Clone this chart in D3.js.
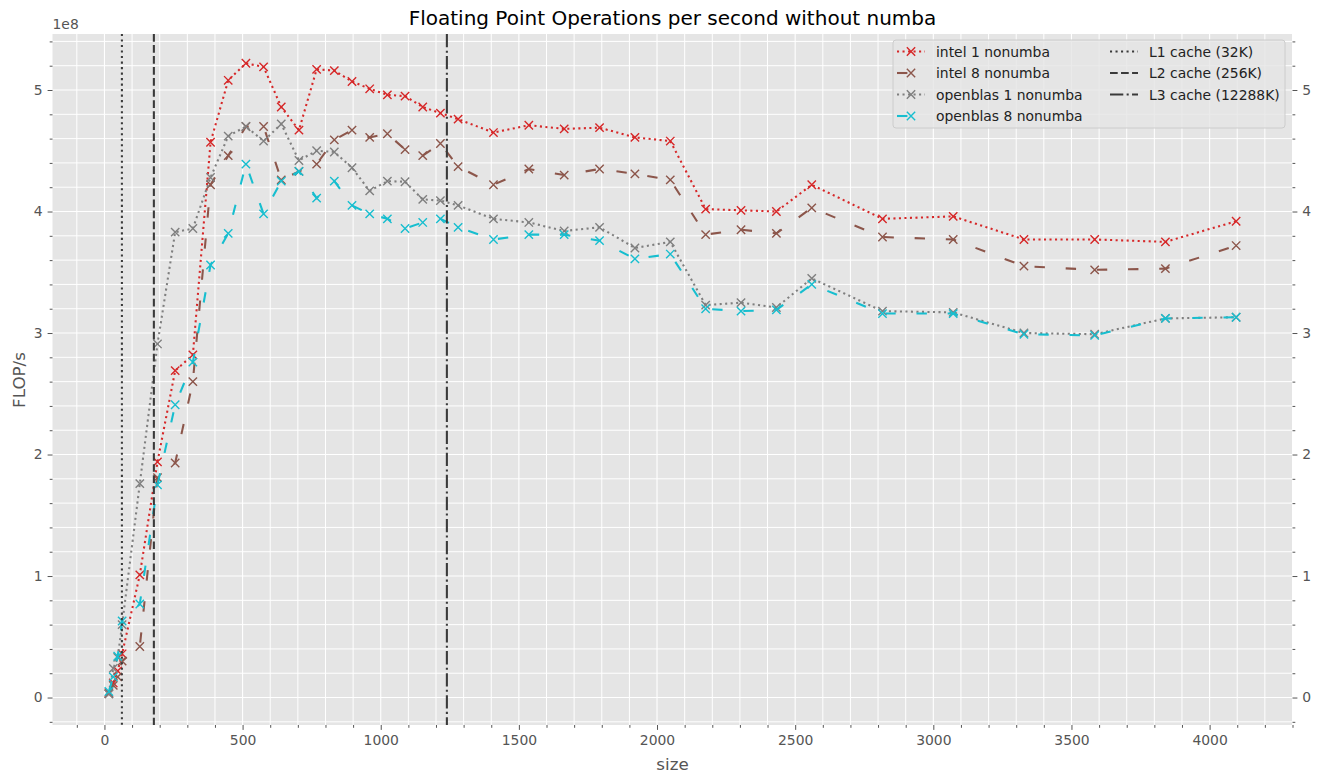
<!DOCTYPE html>
<html><head><meta charset="utf-8">
<script src="https://cdn.jsdelivr.net/npm/d3@7"></script>
<style>body{margin:0;background:#fff} text{font-family:"DejaVu Sans",sans-serif}</style>
</head><body><svg id="chart" width="1320" height="783"></svg>
<script>
// matrix sizes (x)
const sizes = [16,32,48,64,128,192,256,320,384,448,512,576,640,704,768,832,896,960,1024,1088,1152,1216,1280,1408,1536,1664,1792,1920,2048,2176,2304,2432,2560,2816,3072,3328,3584,3840,4096];
// FLOP/s in units of 1e8
const intel1 = [0.04,0.12,0.22,0.36,1.01,1.94,2.69,2.82,4.57,5.08,5.22,5.19,4.86,4.67,5.17,5.16,5.07,5.01,4.96,4.95,4.86,4.81,4.76,4.65,4.71,4.68,4.69,4.61,4.58,4.02,4.01,4.00,4.22,3.94,3.96,3.77,3.77,3.75,3.92];
const intel8 = [0.03,0.10,0.17,0.30,0.42,1.81,1.93,2.60,4.22,4.46,4.70,4.70,4.26,4.33,4.39,4.59,4.67,4.61,4.64,4.51,4.46,4.56,4.37,4.22,4.35,4.30,4.35,4.31,4.26,3.81,3.85,3.82,4.03,3.79,3.77,3.55,3.52,3.53,3.72];
const openblas1 = [0.03,0.24,0.33,0.60,1.76,2.91,3.83,3.86,4.28,4.62,4.70,4.58,4.72,4.42,4.50,4.49,4.36,4.17,4.25,4.245,4.10,4.09,4.05,3.94,3.91,3.84,3.87,3.70,3.75,3.23,3.25,3.21,3.45,3.18,3.17,3.00,2.99,3.12,3.13];
const openblas8 = [0.05,0.17,0.34,0.63,0.77,1.75,2.41,2.76,3.56,3.82,4.39,3.98,4.25,4.33,4.11,4.25,4.05,3.98,3.94,3.86,3.91,3.94,3.87,3.77,3.81,3.81,3.76,3.61,3.65,3.20,3.18,3.19,3.40,3.16,3.16,2.99,2.98,3.12,3.13];
const seriesNames = ["intel 1 nonumba","intel 8 nonumba","openblas 1 nonumba","openblas 8 nonumba"];
const seriesColors = ["#d62728","#8c564b","#7f7f7f","#17becf"];
// cache lines: sqrt(cacheBytes/8) with K=1000
const cacheNames = ["L1 cache (32K)","L2 cache (256K)","L3 cache (12288K)"];
const cachePositions = [63.2,178.9,1239.4];
const xTicks = [0,500,1000,1500,2000,2500,3000,3500,4000];
const yTicks = [0,1,2,3,4,5];

const svg = d3.select("#chart");
const L=52.5, R=1292.5, T=34, B=725;
const x = d3.scaleLinear().domain([-188,4300]).range([L,R]);
const y = d3.scaleLinear().domain([-0.226,5.461]).range([B,T]);

svg.append("rect").attr("x",L).attr("y",T).attr("width",R-L).attr("height",B-T).attr("fill","#e5e5e5");

const xMinor = d3.range(-100,4301,100).filter(v=>x(v)>=L&&x(v)<=R);
const yMinor = d3.range(-2,55,2).map(v=>v/10).filter(v=>y(v)>=T&&y(v)<=B);

const grid = svg.append("g");
xMinor.forEach(v=>grid.append("line").attr("x1",x(v)).attr("x2",x(v)).attr("y1",T).attr("y2",B).attr("stroke","#fff").attr("stroke-width",xTicks.includes(v)?1.1:1));
yMinor.forEach(v=>grid.append("line").attr("y1",y(v)).attr("y2",y(v)).attr("x1",L).attr("x2",R).attr("stroke","#fff").attr("stroke-width",yTicks.includes(v)?1.1:1));

// axes
function styleAxis(g){ g.select(".domain").remove(); g.selectAll("line").attr("stroke","#555"); g.selectAll("text").attr("fill","#555").style("font-size","13.9px").style("font-family","DejaVu Sans"); }
svg.append("g").attr("transform",`translate(0,${B})`).call(d3.axisBottom(x).tickValues(xTicks).tickSize(4.9).tickPadding(4.9).tickFormat(d3.format("d"))).call(styleAxis);
svg.append("g").attr("transform",`translate(0,${B})`).call(d3.axisBottom(x).tickValues(xMinor.filter(v=>!xTicks.includes(v))).tickSize(2.8).tickFormat("")).call(styleAxis);
svg.append("g").attr("transform",`translate(${L},0)`).call(d3.axisLeft(y).tickValues(yTicks).tickSize(4.9).tickPadding(4.9).tickFormat(d3.format("d"))).call(styleAxis);
svg.append("g").attr("transform",`translate(${L},0)`).call(d3.axisLeft(y).tickValues(yMinor.filter(v=>!yTicks.includes(v))).tickSize(2.8).tickFormat("")).call(styleAxis);
svg.append("g").attr("transform",`translate(${R},0)`).call(d3.axisRight(y).tickValues(yTicks).tickSize(4.9).tickPadding(4.9).tickFormat(d3.format("d"))).call(styleAxis);
svg.append("g").attr("transform",`translate(${R},0)`).call(d3.axisRight(y).tickValues(yMinor.filter(v=>!yTicks.includes(v))).tickSize(2.8).tickFormat("")).call(styleAxis);

svg.append("text").attr("x",L).attr("y",29).attr("fill","#555").style("font-size","13.9px").text("1e8");
svg.append("text").attr("x",(L+R)/2).attr("y",25).attr("text-anchor","middle").attr("fill","#000").style("font-size","20px").text("Floating Point Operations per second without numba");
svg.append("text").attr("x",(L+R)/2).attr("y",770).attr("text-anchor","middle").attr("fill","#555").style("font-size","16.7px").text("size");
svg.append("text").attr("transform","translate(25,380) rotate(-90)").attr("text-anchor","middle").attr("fill","#555").style("font-size","16.7px").text("FLOP/s");

const allSeries = [intel1,intel8,openblas1,openblas8];
const dashes = ["2.08,3.43","10.4,20.8","2.08,3.43","10.4,20.8"];
const line = d3.line().x(d=>x(d[0])).y(d=>y(d[1]));
const clip = svg.append("clipPath").attr("id","clip").append("rect").attr("x",L).attr("y",T).attr("width",R-L).attr("height",B-T);
const plot = svg.append("g").attr("clip-path","url(#clip)");
const mk = "M-4.17,-4.17L4.17,4.17M-4.17,4.17L4.17,-4.17";
allSeries.forEach((s,i)=>{
  const pts = sizes.map((v,j)=>[v,s[j]]);
  plot.append("path").attr("d",line(pts)).attr("fill","none").attr("stroke",seriesColors[i]).attr("stroke-width",2.08).attr("stroke-dasharray",dashes[i]);
  pts.forEach(p=>plot.append("path").attr("d",mk).attr("transform",`translate(${x(p[0])},${y(p[1])})`).attr("stroke",seriesColors[i]).attr("stroke-width",1.4).attr("fill","none"));
});
const cacheDash = ["2.08,3.43","7.7,3.33","13.3,3.33,2.08,3.33"];
cachePositions.forEach((c,i)=>{
  plot.append("line").attr("x1",x(c)).attr("x2",x(c)).attr("y1",T).attr("y2",B).attr("stroke","#3a3a3a").attr("stroke-width",2.08).attr("stroke-dasharray",cacheDash[i]);
});

// legend
const lg = svg.append("g");
lg.append("rect").attr("x",893).attr("y",40).attr("width",392).attr("height",88).attr("rx",3).attr("fill","#e5e5e5").attr("fill-opacity",0.8).attr("stroke","#cccccc");
const rowY = [51.5,73,94.5,116];
seriesNames.forEach((n,i)=>{
  const yy=rowY[i];
  lg.append("line").attr("x1",897).attr("x2",925).attr("y1",yy).attr("y2",yy).attr("stroke",seriesColors[i]).attr("stroke-width",2.08).attr("stroke-dasharray",dashes[i]);
  lg.append("path").attr("d",mk).attr("transform",`translate(911,${yy})`).attr("stroke",seriesColors[i]).attr("stroke-width",1.4);
  lg.append("text").attr("x",936).attr("y",yy+5).attr("fill","#222").style("font-size","13.9px").text(n);
});
cacheNames.forEach((n,i)=>{
  const yy=rowY[i];
  lg.append("line").attr("x1",1110).attr("x2",1138).attr("y1",yy).attr("y2",yy).attr("stroke","#3a3a3a").attr("stroke-width",2.08).attr("stroke-dasharray",cacheDash[i]);
  lg.append("text").attr("x",1149).attr("y",yy+5).attr("fill","#222").style("font-size","13.9px").text(n);
});
</script></body></html>
